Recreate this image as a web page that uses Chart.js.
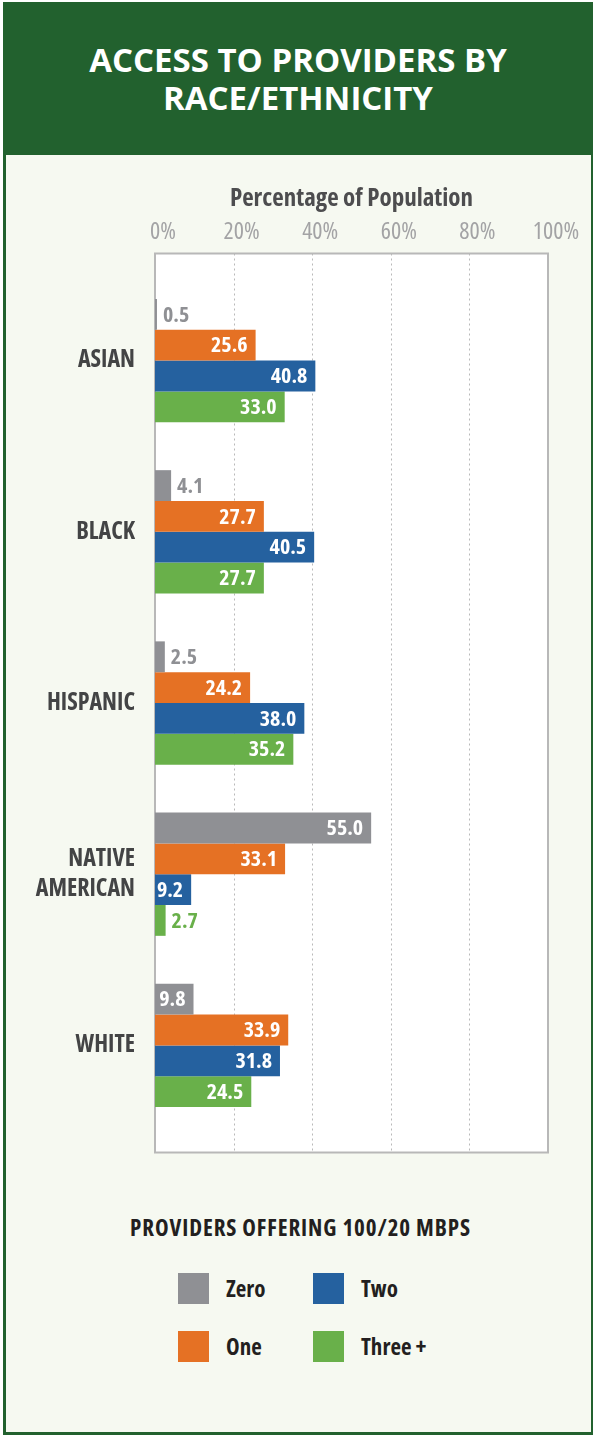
<!DOCTYPE html>
<html>
<head>
<meta charset="utf-8">
<script src="https://cdn.jsdelivr.net/npm/chart.js@4"></script>
<style>
  body { margin: 0; background: #fff; width: 593px; height: 1435px; position: relative; overflow: hidden; }
  .frame { position: absolute; left: 3px; top: 2px; width: 590px; height: 1433px; box-sizing: border-box;
           background: #f6f9f1; border-left: 3px solid #22612e; border-right: 2px solid #22612e; border-bottom: 3px solid #22612e; }
  .header { position: absolute; left: 3px; top: 2px; width: 590px; height: 153px; background: #22612e; }
  .title { position: absolute; left: 3px; top: 41px; width: 590px; text-align: center; color: #fff;
           font: bold 33px 'Open Sans', sans-serif; line-height: 38px; }
  #wrap { position: absolute; left: 0; top: 155px; width: 593px; height: 1000px; }
  .cond { font-family: 'Open Sans', 'DejaVu Sans Condensed', sans-serif; font-weight: bold; font-stretch: 75%; }
  .legTitle { position: absolute; left: 0; width: 601px; top: 1213px; text-align: center; color: #231f20; font-size: 23px; line-height: 28px; letter-spacing: 0.9px; }
  .legItem { position: absolute; height: 31px; line-height: 31px; color: #231f20; font-size: 23px; white-space: nowrap; }
  .legItem span.box { position: absolute; left: 0; top: 0; width: 31px; height: 31px; }
  .legItem span.txt { position: absolute; left: 48px; top: 0; }
</style>
</head>
<body>
<div class="frame"></div>
<div class="header"></div>
<div class="title">ACCESS TO PROVIDERS BY<br>RACE/ETHNICITY</div>
<div id="wrap"><canvas id="myChart" width="593" height="1000"></canvas></div>
<div class="legTitle cond">PROVIDERS OFFERING 100/20 MBPS</div>
<div id="legend"></div>

<script>
// categories and values
const categories = ['ASIAN', 'BLACK', 'HISPANIC', ['NATIVE', 'AMERICAN'], 'WHITE'];
const seriesNames = ['Zero', 'One', 'Two', 'Three +'];
const seriesColors = ['#8f9094', '#e57124', '#25619f', '#69b04a'];

const zero      = [0.5, 4.1, 2.5, 55.0, 9.8];
const one       = [25.6, 27.7, 24.2, 33.1, 33.9];
const two       = [40.8, 40.5, 38.0, 9.2, 31.8];
const threePlus = [33.0, 27.7, 35.2, 2.7, 24.5];

const xTicks = [0, 20, 40, 60, 80, 100];

// condensed text: Open Sans on its width axis
const condFont = "'Open Sans', 'DejaVu Sans Condensed', sans-serif";

// white plot box + dotted grid, a bit taller than the chart area
const frameExtra = 21.5;
const plotFrame = {
    id: 'plotFrame',
    beforeDatasetsDraw(chart) {
        const {ctx, chartArea} = chart;
        const x = chart.scales.x;
        const top = chartArea.top - frameExtra;
        const bottom = chartArea.bottom + frameExtra;
        ctx.save();
        ctx.fillStyle = '#ffffff';
        ctx.fillRect(chartArea.left, top, chartArea.right - chartArea.left, bottom - top);
        ctx.strokeStyle = '#b9b9b9';
        ctx.lineWidth = 1;
        ctx.setLineDash([2, 3]);
        xTicks.slice(1, -1).forEach(v => {
            const px = Math.round(x.getPixelForValue(v)) + 0.5;
            ctx.beginPath();
            ctx.moveTo(px, top);
            ctx.lineTo(px, bottom);
            ctx.stroke();
        });
        ctx.setLineDash([]);
        ctx.strokeStyle = '#b8b8b8';
        ctx.lineWidth = 2;
        ctx.strokeRect(chartArea.left, top, chartArea.right - chartArea.left, bottom - top);
        ctx.restore();
    }
};

// value labels: inside in white, outside in bar colour for small bars
const barLabels = {
    id: 'barLabels',
    afterDatasetsDraw(chart) {
        const {ctx} = chart;
        ctx.save();
        ctx.font = 'bold condensed 22px ' + condFont;
        ctx.textBaseline = 'middle';
        chart.data.datasets.forEach((ds, i) => {
            const meta = chart.getDatasetMeta(i);
            meta.data.forEach((bar, j) => {
                const v = ds.data[j];
                const txt = v.toFixed(1);
                if (v >= 5) {
                    ctx.fillStyle = '#ffffff';
                    ctx.textAlign = 'right';
                    ctx.fillText(txt, bar.x - 8, bar.y + 1);
                } else {
                    ctx.fillStyle = ds.backgroundColor;
                    ctx.textAlign = 'left';
                    ctx.fillText(txt, bar.x + 6, bar.y + 1);
                }
            });
        });
        ctx.restore();
    }
};

const seriesData = [zero, one, two, threePlus];

new Chart(document.getElementById('myChart'), {
    type: 'bar',
    data: {
        labels: categories,
        datasets: seriesNames.map((name, i) => ({
            label: name,
            data: seriesData[i],
            backgroundColor: seriesColors[i],
            borderWidth: 0,
            barPercentage: 1.0,
            categoryPercentage: 0.72
        }))
    },
    options: {
        indexAxis: 'y',
        responsive: false,
        animation: false,
        devicePixelRatio: 1,
        layout: { padding: { left: 0, right: 45, top: 0, bottom: 24 } },
        plugins: {
            legend: { display: false },
            tooltip: { enabled: false }
        },
        scales: {
            x: {
                type: 'linear',
                position: 'top',
                min: 0,
                max: 100,
                afterFit(scale) {
                    scale.height = 120;
                    scale.paddingLeft = 0;
                    scale.paddingRight = 0;
                },
                grid: { display: false, drawTicks: false },
                border: { display: false },
                ticks: {
                    stepSize: 20,
                    padding: 28,
                    labelOffset: 8,
                    maxRotation: 0,
                    color: '#a3a3a5',
                    font: { family: condFont, size: 24, weight: 'normal condensed' },
                    callback: v => v + '%'
                },
                title: {
                    display: true,
                    text: 'Percentage of Population',
                    color: '#4d4d4f',
                    padding: { top: 29, bottom: 0 },
                    font: { family: condFont, size: 25, weight: 'bold condensed' }
                }
            },
            y: {
                afterFit(scale) {
                    scale.width = 155;
                    scale.paddingTop = 0;
                    scale.paddingBottom = 0;
                },
                grid: { display: false, drawTicks: false },
                border: { display: false },
                ticks: {
                    padding: 20,
                    color: '#434445',
                    font: { family: condFont, size: 24, weight: 'bold condensed', lineHeight: 1.25 }
                }
            }
        }
    },
    plugins: [plotFrame, barLabels]
});

// legend, filled column by column like the original
const legend = document.getElementById('legend');
const colX = [178, 313];
const rowY = [1273, 1331];
seriesNames.forEach((name, i) => {
    const item = document.createElement('div');
    item.className = 'legItem cond';
    item.style.left = colX[Math.floor(i / 2)] + 'px';
    item.style.top = rowY[i % 2] + 'px';
    item.innerHTML = '<span class="box" style="background:' + seriesColors[i] + '"></span><span class="txt">' + name + '</span>';
    legend.appendChild(item);
});
</script>
</body>
</html>
